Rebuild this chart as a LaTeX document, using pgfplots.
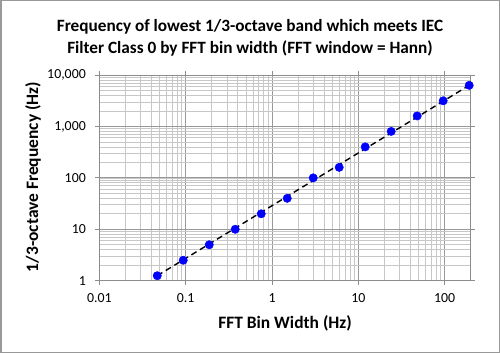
\documentclass[border=0pt]{standalone}
\usepackage{fontspec}
\setmainfont{Carlito}
\usepackage{pgfplots}
\pgfplotsset{compat=1.18}
\begin{document}
\begin{tikzpicture}[x=1bp,y=1bp]
\draw[black!40, line width=1.5bp, fill=white] (0.75,0.75) rectangle (499.25,352.25);
\node[font=\fontsize{17.3}{19}\bfseries\selectfont] at (250,326) {Frequency of lowest 1/3-octave band which meets IEC};
\node[font=\fontsize{17.3}{19}\bfseries\selectfont] at (250,305) {Filter Class 0 by FFT bin width (FFT window = Hann)};
\node[font=\fontsize{17.5}{19}\bfseries\selectfont, rotate=90] at (33,176) {1/3-octave Frequency (Hz)};
\node[font=\fontsize{17.5}{19}\bfseries\selectfont] at (285,30) {FFT Bin Width (Hz)};
\begin{axis}[
  at={(99.3bp,72.3bp)}, anchor=south west,
  scale only axis, width=371.4bp, height=205.7bp,
  xmode=log, ymode=log,
  xmin=0.01, xmax=200, ymin=1, ymax=10000,
  xtick={0.01,0.1,1,10,100}, xticklabels={0.01,0.1,1,10,100},
  ytick={1,10,100,1000,10000}, yticklabels={1,10,100,{1,000},{10,000}},
  grid=both,
  major grid style={color=black!40, line width=0.9bp},
  minor grid style={color=black!22, line width=0.7bp},
  axis line style={black!45, line width=0.9bp},
  tick style={black!45, line width=0.9bp},
  tick align=outside, major tick length=4bp, minor tick length=0bp,
  ticklabel style={font=\fontsize{13.9}{15}\selectfont, text=black},
  xticklabel style={yshift=-5bp},
  yticklabel style={xshift=-6bp},
  /pgf/number format/assume math mode=true,
  clip=false,
]
\addplot[only marks, mark=*, mark size=4.2bp, color=blue, mark options={fill=blue, draw=blue}] coordinates {
(0.046875,1.25) (0.09375,2.5) (0.1875,5) (0.375,10) (0.75,20) (1.5,40) (3,100) (6,160) (12,400) (24,800) (48,1600) (96,3150) (192,6300)
};
\addplot[black, line width=1.4bp, dash pattern=on 6bp off 4bp] coordinates {(0.046875,1.25) (192,6300)};
\end{axis}
\end{tikzpicture}
\end{document}
